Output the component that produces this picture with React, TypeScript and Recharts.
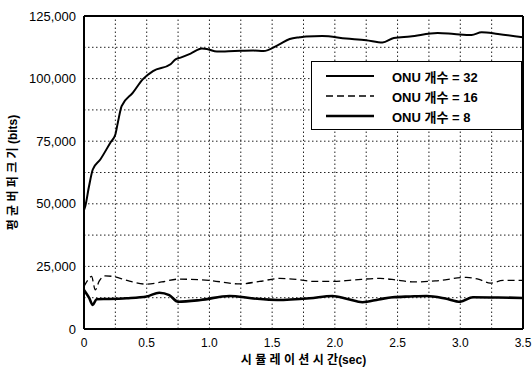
import { LineChart, Line, XAxis, YAxis, ReferenceLine, Label } from "recharts"

const font = "'Liberation Sans', Arial, 'Noto Sans CJK KR', sans-serif"

// time (sec) and average buffer size (bits)
const t32 = [0, 0.01, 0.04, 0.07, 0.13, 0.21, 0.25, 0.27, 0.3, 0.39, 0.47, 0.55, 0.69, 0.73, 0.77, 0.85, 0.94, 0.98, 1.06, 1.2, 1.35, 1.43, 1.55, 1.64, 1.72, 1.77, 1.9, 2.09, 2.25, 2.38, 2.47, 2.6, 2.82, 2.95, 3.09, 3.17, 3.3, 3.5]
const onu32 = [47500, 49000, 57000, 63700, 67700, 74400, 77700, 82500, 89000, 94400, 99800, 103000, 105700, 107700, 108400, 110000, 112000, 111800, 110800, 111000, 111200, 111000, 113500, 115800, 116500, 116800, 117000, 116000, 115300, 114400, 116200, 116800, 118200, 117800, 117400, 118500, 117800, 116500]

const t16 = [0, 0.03, 0.06, 0.09, 0.12, 0.17, 0.23, 0.35, 0.5, 0.62, 0.75, 1.0, 1.24, 1.4, 1.56, 1.7, 1.83, 1.98, 2.15, 2.36, 2.5, 2.63, 2.8, 3.05, 3.15, 3.24, 3.34, 3.5]
const onu16 = [17000, 19500, 21000, 15600, 19000, 21200, 21000, 19300, 17900, 18800, 19900, 19400, 18000, 19000, 20200, 19800, 19000, 19000, 19600, 20200, 19500, 18800, 19200, 20600, 19800, 18300, 19400, 19400]

const t8 = [0, 0.04, 0.07, 0.1, 0.2, 0.34, 0.5, 0.6, 0.68, 0.75, 0.93, 1.16, 1.35, 1.54, 1.8, 1.98, 2.1, 2.22, 2.35, 2.46, 2.6, 2.73, 2.88, 3.0, 3.1, 3.3, 3.5]
const onu8 = [15600, 12500, 9600, 11900, 12000, 12300, 13000, 14500, 13500, 10900, 11600, 13200, 12200, 11600, 12300, 13200, 12000, 10700, 11800, 12700, 13000, 13200, 12200, 10900, 12700, 12600, 12400]

const xTicks = [0, 0.5, 1.0, 1.5, 2.0, 2.5, 3.0, 3.5]
const yTicks = [0, 25000, 50000, 75000, 100000, 125000]
const xGrid = [0.25, 0.5, 0.75, 1, 1.25, 1.5, 1.75, 2, 2.25, 2.5, 2.75, 3, 3.25]
const yGrid = [12500, 25000, 37500, 50000, 62500, 75000, 87500, 100000, 112500]

const toRows = (ts: number[], vs: number[]) => ts.map((t, i) => ({ t, v: vs[i] }))

const series = [
  { name: "ONU 개수 = 32", data: toRows(t32, onu32), width: 2, dash: undefined as string | undefined },
  { name: "ONU 개수 = 16", data: toRows(t16, onu16), width: 1.3, dash: "7 4" },
  { name: "ONU 개수 = 8", data: toRows(t8, onu8), width: 2.6, dash: undefined as string | undefined },
]

function LegendBox() {
  return (
    <div style={{ position: "absolute", left: 311, top: 61, border: "1.5px solid #000", background: "#fff", width: 211, height: 69, fontFamily: font, fontSize: 13, fontWeight: "bold", boxSizing: "border-box", paddingTop: 4 }}>
      {series.map((s) => (
        <div key={s.name} style={{ display: "flex", alignItems: "center", height: 20 }}>
          <svg width={80} height={10}>
            <line x1={14} x2={62} y1={5} y2={5} stroke="#000" strokeWidth={s.width} strokeDasharray={s.dash} />
          </svg>
          <span>{s.name}</span>
        </div>
      ))}
    </div>
  )
}

export default function App() {
  return (
    <div style={{ position: "absolute", left: 0, top: 0, width: 532, height: 367, background: "#fff" }}>
      <LineChart width={532} height={367} margin={{ top: 16, right: 9, bottom: 0, left: 0 }}>
        <XAxis
          type="number"
          dataKey="t"
          domain={[0, 3.5]}
          ticks={xTicks}
          tickFormatter={(v: number) => (v === 0 ? "0" : v.toFixed(1))}
          height={38}
          tickLine={false}
          tickMargin={3}
          axisLine={{ stroke: "#000", strokeWidth: 2 }}
          tick={{ fill: "#000", fontSize: 12, fontFamily: font }}
          allowDuplicatedCategory={false}
        >
          <Label value="시 뮬 레 이 션 시 간(sec)" position="insideBottom" offset={3} style={{ fill: "#000", fontSize: 12, fontWeight: "bold", fontFamily: font }} />
        </XAxis>
        <YAxis
          type="number"
          dataKey="v"
          domain={[0, 125000]}
          ticks={yTicks}
          tickFormatter={(v: number) => v.toLocaleString("en-US")}
          width={84}
          tickLine={false}
          axisLine={{ stroke: "#000", strokeWidth: 2 }}
          tick={{ fill: "#000", fontSize: 13, fontFamily: font }}
        >
          <Label value="평 균 버 퍼 크 기 (bits)" angle={-90} position="insideLeft" offset={13} style={{ textAnchor: "middle", fill: "#000", fontSize: 12, fontWeight: "bold", fontFamily: font }} />
        </YAxis>
        {xGrid.map((x) => (
          <ReferenceLine key={"gx" + x} x={x} stroke="#222" strokeDasharray="1.5 2.5" />
        ))}
        {yGrid.map((y) => (
          <ReferenceLine key={"gy" + y} y={y} stroke="#222" strokeDasharray="1.5 2.5" />
        ))}
        <ReferenceLine y={125000} stroke="#000" strokeWidth={2} />
        <ReferenceLine x={3.5} stroke="#000" strokeWidth={2} />
        {series.map((s) => (
          <Line
            key={s.name}
            data={s.data}
            dataKey="v"
            name={s.name}
            type="monotone"
            stroke="#000"
            strokeWidth={s.width}
            strokeDasharray={s.dash}
            dot={false}
            isAnimationActive={false}
          />
        ))}
      </LineChart>
      <LegendBox />
    </div>
  )
}
